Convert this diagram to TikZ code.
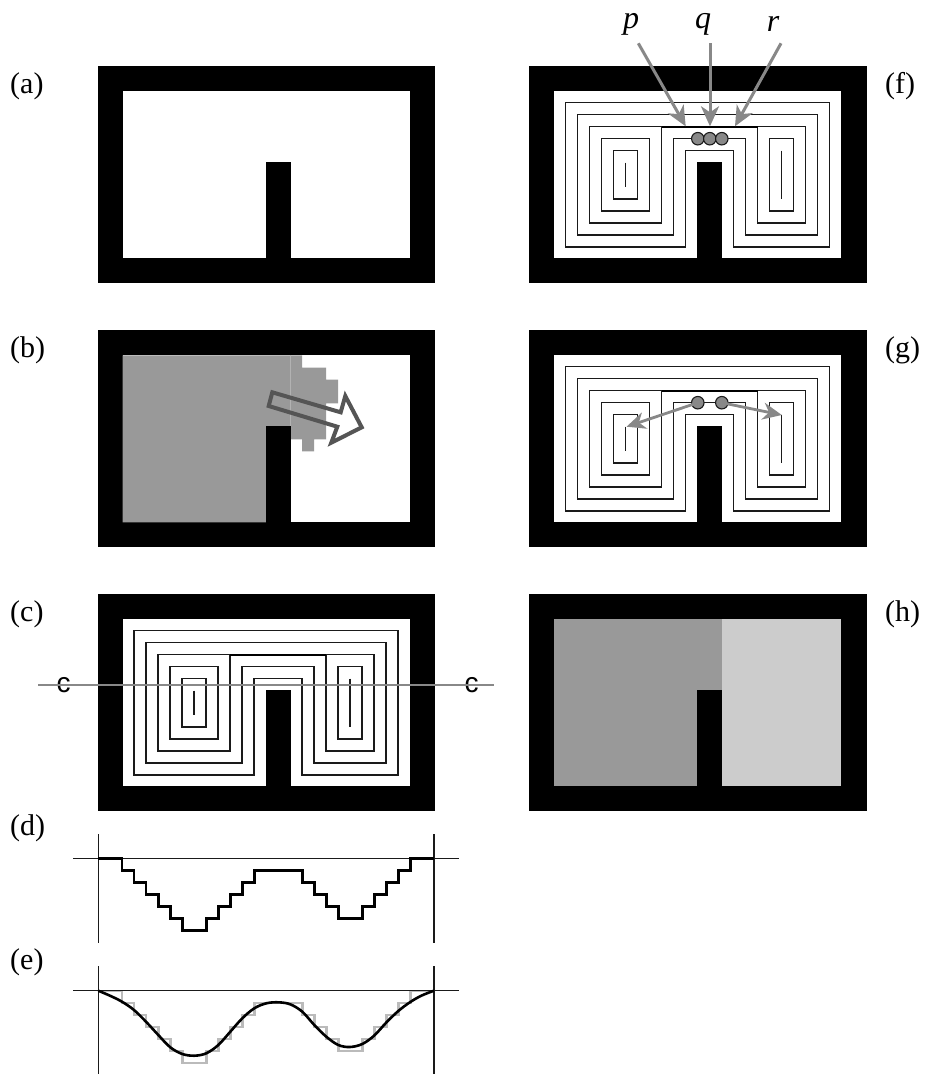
\documentclass[tikz,border=0pt]{standalone}
\usepackage{fontspec}
\setmainfont{Liberation Serif}
\newfontfamily\cutfont{Liberation Sans}
\usetikzlibrary{arrows.meta}
\definecolor{midgray}{HTML}{999999}
\definecolor{lightgray2}{HTML}{CCCCCC}
\definecolor{arrowgray}{HTML}{888888}
\definecolor{arrowdark}{HTML}{555555}
\definecolor{linedark}{HTML}{1A1A1A}
\definecolor{stepgray}{HTML}{BBBBBB}
\tikzset{
  wire/.style={draw=linedark,line width=1.2pt,line join=miter},
  wirethick/.style={draw=black,line width=2pt},
  axisline/.style={draw=linedark,line width=1.2pt},
  dotnode/.style={circle,draw=linedark,line width=1.1pt,fill=arrowgray,minimum size=12.5pt,inner sep=0pt},
  grayarrow/.style={draw=arrowgray,line width=3pt,-{Stealth[length=20pt,width=18pt,inset=6pt]}},
  smallarrow/.style={draw=arrowgray,line width=2.8pt,-{Stealth[length=19pt,width=17pt,inset=6pt]}},
  panellabel/.style={font=\fontsize{30}{32}\selectfont,inner sep=0pt},
  letterlabel/.style={font=\fontsize{32}{34}\selectfont\itshape,inner sep=0pt},
  cutlabel/.style={font=\fontsize{28}{30}\selectfont\cutfont,inner sep=0pt},
}
\newcommand{\frameshape}{%
  \fill[black] (0,0) rectangle (337.5,217);
  \fill[white] (25,25.3) rectangle (312,192.3);
}
\newcommand{\pillarshape}{\fill[black] (168,96) rectangle (193,193);}
\newcommand{\coilshape}{%
  \draw[wire] (36.5,36.7) -- (300.5,36.7) -- (300.5,181) -- (204.5,181) -- (204.5,84.7) -- (156.5,84.7) -- (156.5,181) -- (36.5,181) -- cycle;
  \draw[wire] (48.5,48.7) -- (288.5,48.7) -- (288.5,169) -- (216.5,169) -- (216.5,72.7) -- (144.5,72.7) -- (144.5,169) -- (48.5,169) -- cycle;
  \draw[wire] (60.5,60.7) rectangle (132.5,157);
  \draw[wire] (228.5,60.7) rectangle (276.5,157);
  \draw[wirethick] (132.5,60.7) -- (228.5,60.7);
  \draw[wire] (72.5,72.7) rectangle (120.5,145);
  \draw[wire] (84.5,84.7) rectangle (108.5,133);
  \draw[wire] (96.5,96.7) -- (96.5,121);
  \draw[wire] (240.5,72.7) rectangle (264.5,145);
  \draw[wire] (252.5,84.7) -- (252.5,133);
}
\newcommand{\stepcurve}{(98.3,858.7) -- (122,858.7) -- (122,870.7) -- (134,870.7) -- (134,882.7) -- (146,882.7) -- (146,894.7) -- (158.3,894.7) -- (158.3,906.7) -- (170.3,906.7) -- (170.3,918.7) -- (182.3,918.7) -- (182.3,930.7) -- (206.3,930.7) -- (206.3,918.7) -- (218.3,918.7) -- (218.3,906.7) -- (230.3,906.7) -- (230.3,894.7) -- (242.3,894.7) -- (242.3,882.7) -- (254.3,882.7) -- (254.3,870.7) -- (302.3,870.7) -- (302.3,882.7) -- (314.3,882.7) -- (314.3,894.7) -- (326.3,894.7) -- (326.3,906.7) -- (338.3,906.7) -- (338.3,918.7) -- (362.3,918.7) -- (362.3,906.7) -- (374.3,906.7) -- (374.3,894.7) -- (386.3,894.7) -- (386.3,882.7) -- (398.3,882.7) -- (398.3,870.7) -- (410.3,870.7) -- (410.3,858.7) -- (434,858.7)}
\begin{document}
\begin{tikzpicture}[x=1pt,y=-1pt]
\useasboundingbox (0,0) rectangle (947,1074);
\fill[white] (0,0) rectangle (947,1074);

% (a)
\begin{scope}[shift={(97.5,66)}]
  \frameshape \pillarshape
\end{scope}
\node[panellabel,anchor=west] (la) at (10,86) {(a)};

% (b)
\begin{scope}[shift={(97.5,330)}]
  \frameshape
  \fill[midgray] (25,25.3) -- (204.5,25.3) -- (204.5,37.7) -- (228.5,37.7) -- (228.5,49.7) -- (240.5,49.7) -- (240.5,73.3) -- (228.5,73.3) -- (228.5,109.3) -- (216.5,109.3) -- (216.5,121.3) -- (204.5,121.3) -- (204.5,109.3) -- (192.5,109.3) -- (192.5,192.3) -- (25,192.3) -- cycle;
  \draw[line width=0.5pt,draw=lightgray2!50!midgray] (192.8,25.3) -- (192.8,96);
  \pillarshape
\end{scope}
\draw[draw=arrowdark,line width=4pt,line join=miter,miter limit=10] (272.3,392.3) -- (268.7,406) -- (337.3,426.7) -- (331.3,442.7) -- (361.7,427.3) -- (345.3,396) -- (340.7,412.3) -- cycle;
\node[panellabel,anchor=west] (lb) at (10,350) {(b)};

% (c)
\begin{scope}[shift={(97.5,594)}]
  \frameshape \pillarshape \coilshape
\end{scope}
\node[cutlabel] (cl) at (63.5,685) {c};
\node[cutlabel] (cr) at (471.7,685) {c};
\coordinate (cs) at (38.3,685);
\coordinate (ce) at (494,685);
\draw[draw=arrowgray,line width=1.6pt] (cs) -- (ce);
\node[panellabel,anchor=west] (lc) at (10,614) {(c)};

% (d)
\coordinate (dva) at (98.3,834.3); \coordinate (dvb) at (98.3,943.3);
\coordinate (dwa) at (434,834.3); \coordinate (dwb) at (434,943.3);
\coordinate (dha) at (73.3,858.7); \coordinate (dhb) at (458.7,858.7);
\draw[axisline] (dva) -- (dvb);
\draw[axisline] (dwa) -- (dwb);
\draw[axisline] (dha) -- (dhb);
\draw[draw=black,line width=2.6pt,line join=miter] \stepcurve;
\node[panellabel,anchor=west] (ld) at (10,828) {(d)};

% (e)
\coordinate (eva) at (98.3,966); \coordinate (evb) at (98.3,1074);
\coordinate (ewa) at (434,966); \coordinate (ewb) at (434,1074);
\coordinate (eha) at (73.3,990.7); \coordinate (ehb) at (458.7,990.7);
\draw[axisline] (eva) -- (evb);
\draw[axisline] (ewa) -- (ewb);
\begin{scope}[yshift=-132pt]
  \draw[draw=stepgray,line width=2.4pt] \stepcurve;
\end{scope}
\draw[axisline] (eha) -- (ehb);
\draw[draw=black,line width=2.6pt,smooth,tension=0.55] plot coordinates {(98.3,990.7) (110,995.7) (122,1001.7) (134,1010) (146,1021.7) (158.3,1035) (170.3,1047.3) (182.3,1054) (194.3,1055.7) (206.3,1053.3) (218.3,1045) (230.3,1031.7) (242.3,1018.3) (254.3,1008.3) (266.3,1003.3) (278.3,1002.3) (290.3,1004.3) (302.3,1011.7) (314.3,1025) (326.3,1036.7) (338.3,1045) (350,1047) (362.3,1044) (374.3,1035.5) (386.3,1022.5) (398.3,1011) (410.3,1002) (421.7,995.5) (434,990.7)};
\node[panellabel,anchor=west] (le) at (10,962) {(e)};

% (f)
\begin{scope}[shift={(529.3,66)}]
  \frameshape \pillarshape \coilshape
  \node[dotnode] (f1) at (168.5,72.7) {};
  \node[dotnode] (f2) at (180.5,72.7) {};
  \node[dotnode] (f3) at (192.5,72.7) {};
\end{scope}
\node[letterlabel] (lp) at (631,24) {p};
\node[letterlabel] (lq) at (703,24) {q};
\node[letterlabel] (lr) at (773,24) {r};
\coordinate (ps) at (638.3,43.3); \coordinate (pt) at (685.7,126.3);
\coordinate (qs) at (710,43.3); \coordinate (qt) at (710,126.3);
\coordinate (rs) at (781,43.3); \coordinate (rt) at (735,126.3);
\draw[grayarrow] (ps) -- (pt);
\draw[grayarrow] (qs) -- (qt);
\draw[grayarrow] (rs) -- (rt);
\node[panellabel,anchor=west] (lf) at (885,86) {(f)};

% (g)
\begin{scope}[shift={(529.3,330)}]
  \frameshape \pillarshape \coilshape
  \node[dotnode] (g1) at (168.5,72.7) {};
  \node[dotnode] (g2) at (192.5,72.7) {};
\end{scope}
\coordinate (gl) at (626.5,426.7);
\coordinate (gr) at (781.8,415);
\draw[smallarrow] (g1.center) -- (gl);
\draw[smallarrow] (g2.center) -- (gr);
\node[panellabel,anchor=west] (lg) at (885,350) {(g)};

% (h)
\begin{scope}[shift={(529.3,594)}]
  \frameshape
  \fill[midgray] (25,25.3) rectangle (193,192.3);
  \fill[lightgray2] (193,25.3) rectangle (312,192.3);
  \pillarshape
\end{scope}
\node[panellabel,anchor=west] (lh) at (885,614) {(h)};
\end{tikzpicture}
\end{document}
